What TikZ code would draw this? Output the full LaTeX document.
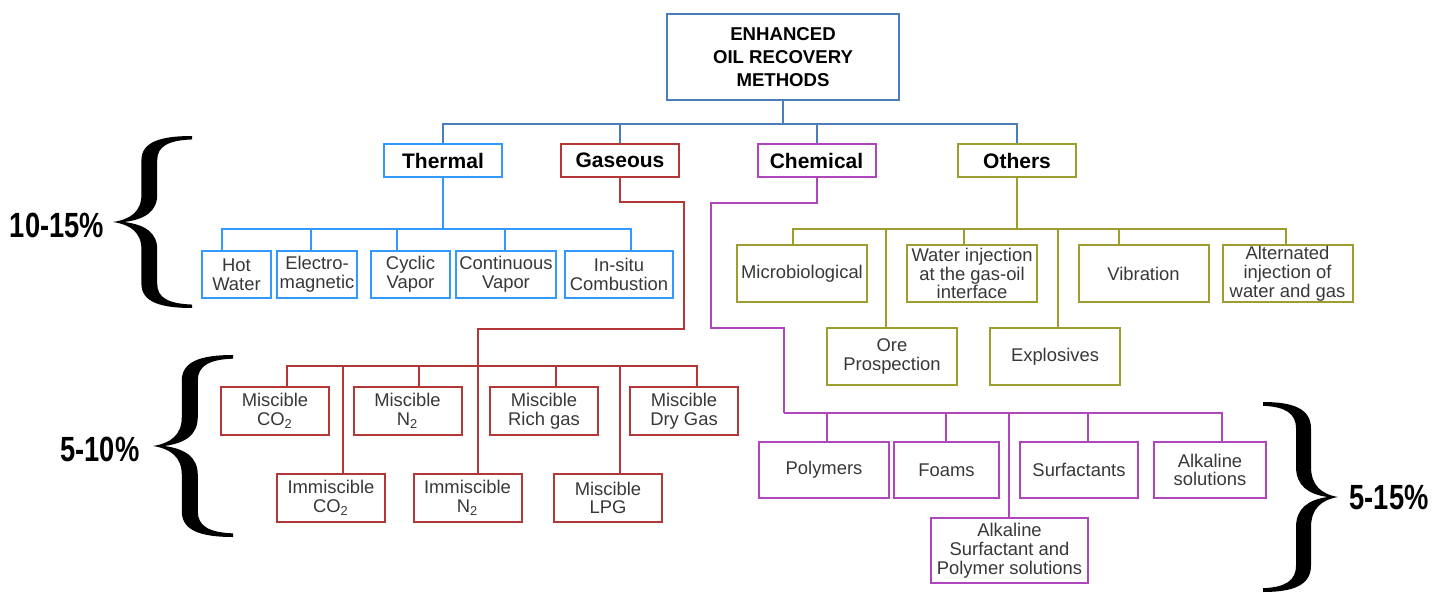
\documentclass[tikz,border=0pt]{standalone}
\usepackage{fontspec}
\setmainfont{Liberation Sans}
\newfontfamily\pctfont[FakeStretch=0.78]{Liberation Sans Bold}

\definecolor{rootblue}{RGB}{74,126,187}
\definecolor{thermblue}{RGB}{51,153,255}
\definecolor{gasred}{RGB}{180,55,55}
\definecolor{chempurple}{RGB}{176,70,190}
\definecolor{otherolive}{RGB}{158,158,48}

\begin{document}
\begin{tikzpicture}[x=0.5pt, y=-0.5pt,
        rootnode/.style={draw=rootblue, line width=1pt, fill=white, align=center, inner sep=0pt,
            minimum width=116pt, minimum height=43pt, font=\bfseries\fontsize{9.3}{11.5}\selectfont},
        groupnode/.style={draw=#1, line width=1pt, fill=white, inner sep=0pt,
            minimum width=59pt, minimum height=16.5pt, font=\bfseries\fontsize{10.5}{12}\selectfont},
        leafnode/.style={draw=#1, line width=1pt, fill=white, align=center, inner sep=0pt,
            text=black!78, font=\fontsize{9.2}{9.4}\selectfont},
        link/.style={draw=#1, line width=1pt},
        pct/.style={font=\pctfont\fontsize{17.5}{20}\selectfont},
        curly/.pic={
            \fill (1,1) .. controls (0.6,1) and (0.36,0.93) .. (0.36,0.72)
                -- (0.36,0.32) .. controls (0.36,0.12) and (0.22,0.03) .. (0,0)
                .. controls (0.22,-0.03) and (0.36,-0.12) .. (0.36,-0.32)
                -- (0.36,-0.72) .. controls (0.36,-0.93) and (0.6,-1) .. (1,-1)
                -- (1,-0.96) .. controls (0.7,-0.95) and (0.56,-0.88) .. (0.56,-0.72)
                -- (0.56,-0.32) .. controls (0.56,-0.12) and (0.4,-0.03) .. (0.14,0)
                .. controls (0.4,0.03) and (0.56,0.12) .. (0.56,0.32)
                -- (0.56,0.72) .. controls (0.56,0.88) and (0.7,0.95) .. (1,0.96) -- cycle;
        },
        ]
        \useasboundingbox (0,0) rectangle (1445,593);

        % Root
        \node[rootnode] (root) at (783,57) {ENHANCED\\OIL RECOVERY\\METHODS};

        % Groups
        \node[groupnode=thermblue] (thermal) at (443,160.5) {Thermal};
        \node[groupnode=gasred] (gaseous) at (620,160.5) {Gaseous};
        \node[groupnode=chempurple] (chemical) at (816.5,160.5) {Chemical};
        \node[groupnode=otherolive] (others) at (1017,160.5) {Others};

        % Thermal
        \node[leafnode=thermblue, minimum width=34.5pt, minimum height=23.5pt] (hotw) at (236.5,274.5) {Hot\\Water};
        \node[leafnode=thermblue, minimum width=40pt, minimum height=23.5pt] (elec) at (317,274.5) {Electro-\\magnetic};
        \node[leafnode=thermblue, minimum width=39.5pt, minimum height=23.5pt] (cycv) at (410.5,274.5) {Cyclic\\Vapor};
        \node[leafnode=thermblue, minimum width=50pt, minimum height=23.5pt] (contv) at (506,274.5) {Continuous\\Vapor};
        \node[leafnode=thermblue, minimum width=54pt, minimum height=23.5pt] (insitu) at (619,274.5) {In-situ\\Combustion};

        % Gaseous
        \tikzset{gasleaf/.style={leafnode=gasred, minimum width=54pt, minimum height=24pt}}
        \node[gasleaf] (misco) at (275,411) {Miscible\\CO\textsubscript{2}};
        \node[gasleaf] (miscn) at (407.5,411) {Miscible\\N\textsubscript{2}};
        \node[gasleaf] (misrich) at (544,411) {Miscible\\Rich gas};
        \node[gasleaf] (misdry) at (684,411) {Miscible\\Dry Gas};
        \node[gasleaf] (immco) at (331,498) {Immiscible\\CO\textsubscript{2}};
        \node[gasleaf] (immn) at (467.5,498) {Immiscible\\N\textsubscript{2}};
        \node[gasleaf] (mislpg) at (608,498) {Miscible\\LPG};

        % Chemical
        \node[leafnode=chempurple, minimum width=65pt, minimum height=28pt] (poly) at (824,470) {Polymers};
        \node[leafnode=chempurple, minimum width=52.5pt, minimum height=28pt] (foams) at (946.5,470) {Foams};
        \node[leafnode=chempurple, minimum width=59pt, minimum height=28pt] (surf) at (1079,470) {Surfactants};
        \node[leafnode=chempurple, minimum width=56pt, minimum height=28pt] (alkal) at (1210,470) {Alkaline\\solutions};
        \node[leafnode=chempurple, minimum width=78.5pt, minimum height=32.5pt] (asp) at (1009.5,550.5) {Alkaline\\Surfactant and\\Polymer solutions};

        % Others
        \tikzset{otherleaf/.style={leafnode=otherolive, minimum width=65pt, minimum height=28.5pt}}
        \node[otherleaf] (micro) at (802,273.5) {Microbiological};
        \node[otherleaf] (wateri) at (972,273.5) {Water injection\\at the gas-oil\\interface};
        \node[otherleaf] (vibr) at (1143.5,273.5) {Vibration};
        \node[otherleaf] (altern) at (1287.5,273.5) {Alternated\\injection of\\water and gas};
        \node[otherleaf] (ore) at (892,356.5) {Ore\\Prospection};
        \node[otherleaf] (explo) at (1055,356.5) {Explosives};

        % Lines
        \foreach \n in {thermal,gaseous,chemical,others}
            \draw[link=rootblue] (root.south) -- ++(0,23) -| (\n.north);
        \foreach \n/\s in {hotw/222, elec/311, cycv/397, contv/505, insitu/631}
            \draw[link=thermblue] (thermal.south) |- (\s,229) -- (\s,0 |- \n.north);

        \coordinate (gasbus) at (478,366);
        \draw[link=gasred] (gaseous.south) |- (684,202) -- (684,329) -| (gasbus);
        \foreach \n/\s in {misco/287, miscn/419, misrich/556, misdry/697, immco/343, immn/478, mislpg/620}
            \draw[link=gasred] (gasbus) -| (\s,0 |- \n.north);

        \coordinate (chembus) at (784,413);
        \draw[link=chempurple] (chemical.south) |- (711,203) |- (784,328) -- (chembus);
        \foreach \n/\s in {poly/827, foams/946, asp/1009, surf/1088, alkal/1222}
            \draw[link=chempurple] (chembus) -| (\s,0 |- \n.north);

        \foreach \n/\s in {micro/793, ore/886, wateri/964, explo/1058, vibr/1119, altern/1286}
            \draw[link=otherolive] (others.south) |- (\s,229) -- (\s,0 |- \n.north);

        % Braces
        \pic[xscale=79, yscale=86] at (113,222) {curly};
        \pic[xscale=80, yscale=91] at (153,446) {curly};
        \pic[xscale=-75, yscale=95] at (1338,497) {curly};

        \node[pct] (thermpct) at (57,225) {10-15\%};
        \node[pct] (gaspct) at (100,449) {5-10\%};
        \node[pct] (chempct) at (1389,497) {5-15\%};

    \end{tikzpicture}
\end{document}
